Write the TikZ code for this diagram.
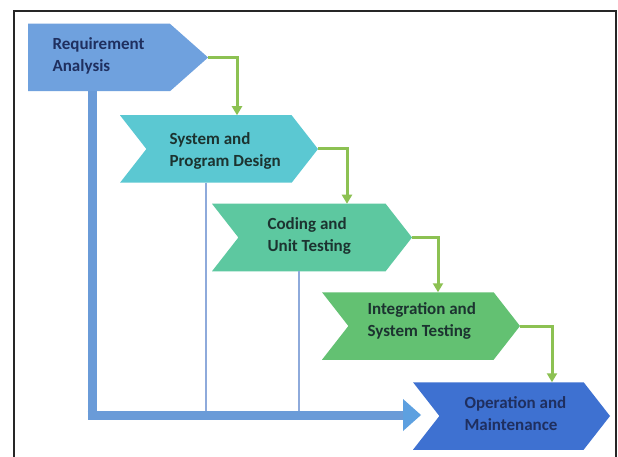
\documentclass[tikz,border=0pt]{standalone}
\usepackage{fontspec}
\setmainfont{Carlito}
\usetikzlibrary{shapes.symbols,arrows.meta}
\definecolor{reqc}{HTML}{6FA1DE}
\definecolor{sysc}{HTML}{5BC8D2}
\definecolor{codc}{HTML}{5DC8A0}
\definecolor{intc}{HTML}{63C172}
\definecolor{opc}{HTML}{3E71D1}
\definecolor{navyt}{HTML}{1F2F5F}
\definecolor{darkt}{HTML}{1C3330}
\definecolor{flowg}{HTML}{8CC152}
\definecolor{fbblue}{HTML}{6A9BD8}
\definecolor{fbhead}{HTML}{5DA0E0}
\definecolor{thinb}{HTML}{8EAADB}
\tikzset{
  phase/.style={signal, signal to=east, draw=none, inner sep=0pt, outer sep=0pt,
    minimum height=67.5pt, signal pointer angle=104},
  lbl/.style={anchor=west, align=left, font=\fontsize{17}{22}\selectfont\bfseries},
  flow/.style={draw=flowg, line width=3pt, -{Triangle[length=9pt,width=10pt]}},
  thin/.style={draw=thinb, line width=2pt},
  feedback/.style={draw=fbblue, line width=9pt},
  frame/.style={draw=black!85, line width=2pt}
}
\begin{document}
\begin{tikzpicture}[x=1pt,y=-1pt]
\useasboundingbox (0,0) rectangle (618,457);
\fill[white] (0,0) rectangle (618,457);
\draw[frame] (14,457) -- (14,11) -- (616,11) -- (616,457);

% phases
\node[phase, fill=reqc, minimum width=180pt, signal pointer angle=83] (req) at (99,57.5) {};
\node[phase, fill=sysc, minimum width=198pt, signal from=west] (sys) at (219,149) {};
\node[phase, fill=codc, minimum width=200pt, signal from=west] (cod) at (312,237.5) {};
\node[phase, fill=intc, minimum width=198pt, signal from=west] (int) at (421,326) {};
\node[phase, fill=opc, minimum width=197pt, signal from=west] (op) at (511.5,416) {};

% labels
\node[lbl, text=navyt] (reqt) at (49,56) {Requirement\\Analysis};
\node[lbl, text=darkt] (syst) at (166,151) {System and\\Program Design};
\node[lbl, text=darkt] (codt) at (264,236) {Coding and\\Unit Testing};
\node[lbl, text=darkt] (intt) at (364,321) {Integration and\\System Testing};
\node[lbl, text=navyt] (opt) at (461,414) {Operation and\\Maintenance};

% feedback path
\coordinate (fbbend) at (92,415);
\coordinate (fbend) at (403,415);
\coordinate (fbtip) at (421,415);
\draw[thin] ([xshift=-13pt]sys.south) -- ([xshift=-13pt]sys.south |- fbbend);
\draw[thin] ([xshift=-13pt]cod.south) -- ([xshift=-13pt]cod.south |- fbbend);
\draw[feedback] (req.south -| fbbend) -- ([yshift=-4.5pt]fbbend) ;
\draw[feedback] ([xshift=-4.5pt]fbbend) -- (fbend);
\fill[fbhead] (403,399) -- (fbtip) -- (403,431) -- cycle;

% flow arrows
\draw[flow] (req.east) -| ([xshift=18pt]sys.north);
\draw[flow] (sys.east) -| ([xshift=35pt]cod.north);
\draw[flow] (cod.east) -| ([xshift=17pt]int.north);
\draw[flow] (int.east) -| ([xshift=40.5pt]op.north);
\end{tikzpicture}
\end{document}
